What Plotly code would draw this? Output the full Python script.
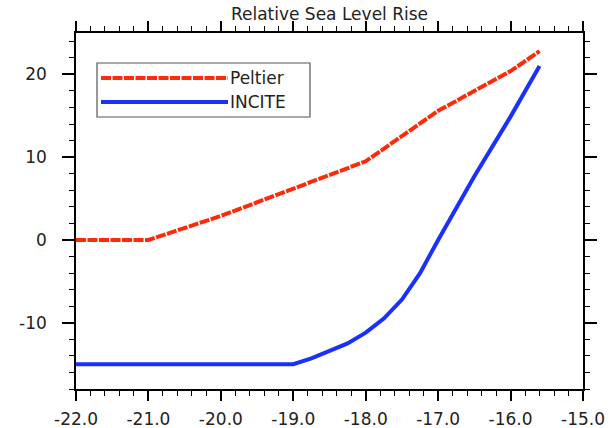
import plotly.graph_objects as go

# ---- data ----
peltier_x = [-22.0, -21.0, -20.0, -19.0, -18.0, -17.0, -16.0, -15.6]
peltier_y = [0.0, 0.0, 2.9, 6.2, 9.5, 15.6, 20.4, 22.8]

incite_x = [-22.0, -19.0, -18.75, -18.5, -18.25, -18.0, -17.75, -17.5, -17.25, -17.0, -16.5, -16.0, -15.6]
incite_y = [-15.0, -15.0, -14.3, -13.4, -12.5, -11.2, -9.5, -7.2, -4.0, 0.0, 7.7, 14.9, 21.0]

series_names = ["Peltier", "INCITE"]
title_text = "Relative Sea Level Rise"
x_ticks = [-22.0, -21.0, -20.0, -19.0, -18.0, -17.0, -16.0, -15.0]
x_ticklabels = ["-22.0", "-21.0", "-20.0", "-19.0", "-18.0", "-17.0", "-16.0", "-15.0"]
y_ticks = [-10, 0, 10, 20]
y_ticklabels = ["-10", "0", "10", "20"]

# ---- layout geometry (pixels) ----
W, H = 613, 428
L, R, T, B = 76, 30, 33, 39
PW, PH = W - L - R, H - T - B

def px_x(p):
    return (p - L) / PW

def px_y(p):
    return (H - B - p) / PH

RED = "#ff2a08"
BLUE = "#1a30ff"
FONT = "DejaVu Sans"
TXT = "#222222"
DASH = "10px,1.5px"

fig = go.Figure()
fig.add_trace(go.Scatter(x=peltier_x, y=peltier_y, mode="lines", name=series_names[0],
                         line=dict(color=RED, width=4, dash=DASH), showlegend=False))
fig.add_trace(go.Scatter(x=incite_x, y=incite_y, mode="lines", name=series_names[1],
                         line=dict(color=BLUE, width=4), showlegend=False))

axis_common = dict(
    showgrid=False, zeroline=False, showline=True, linecolor="black", linewidth=1.5,
    mirror="allticks", ticks="outside", tickwidth=1.5, tickcolor="black",
    automargin=False,
    tickfont=dict(family=FONT, size=17, color=TXT),
)

fig.update_xaxes(range=[-22, -15], tickvals=x_ticks, ticktext=x_ticklabels,
                 ticklen=10, ticklabelstandoff=4,
                 minor=dict(dtick=0.2, ticks="outside", ticklen=5, tickwidth=1, tickcolor="black"),
                 **axis_common)
fig.update_yaxes(range=[-18, 25], tickvals=y_ticks, ticktext=y_ticklabels,
                 ticklen=12, ticklabelstandoff=12,
                 minor=dict(dtick=2, ticks="outside", ticklen=5, tickwidth=1, tickcolor="black"),
                 **axis_common)

# legend (drawn manually to match long line samples)
shapes = [
    dict(type="rect", xref="paper", yref="paper", x0=px_x(97), x1=px_x(310),
         y0=px_y(117), y1=px_y(63), line=dict(color="#555555", width=1.2),
         fillcolor="white"),
    dict(type="line", xref="paper", yref="paper", x0=px_x(101), x1=px_x(228),
         y0=px_y(78), y1=px_y(78), line=dict(color=RED, width=4, dash=DASH)),
    dict(type="line", xref="paper", yref="paper", x0=px_x(101), x1=px_x(228),
         y0=px_y(102), y1=px_y(102), line=dict(color=BLUE, width=4)),
]
annotations = [
    dict(text=series_names[0], xref="paper", yref="paper", x=px_x(228), y=px_y(78),
         xanchor="left", yanchor="middle", showarrow=False,
         font=dict(family=FONT, size=17, color=TXT)),
    dict(text=series_names[1], xref="paper", yref="paper", x=px_x(228), y=px_y(102),
         xanchor="left", yanchor="middle", showarrow=False,
         font=dict(family=FONT, size=17, color=TXT)),
]

fig.update_layout(
    width=W, height=H,
    margin=dict(l=L, r=R, t=T, b=B, autoexpand=False),
    paper_bgcolor="white", plot_bgcolor="white",
    title=dict(text=title_text, x=0.5, xref="paper", xanchor="center",
               y=1 - 14 / H, yref="container", yanchor="middle",
               font=dict(family=FONT, size=17, color=TXT)),
    shapes=shapes, annotations=annotations,
    showlegend=False,
)

fig.write_html("out.html")
